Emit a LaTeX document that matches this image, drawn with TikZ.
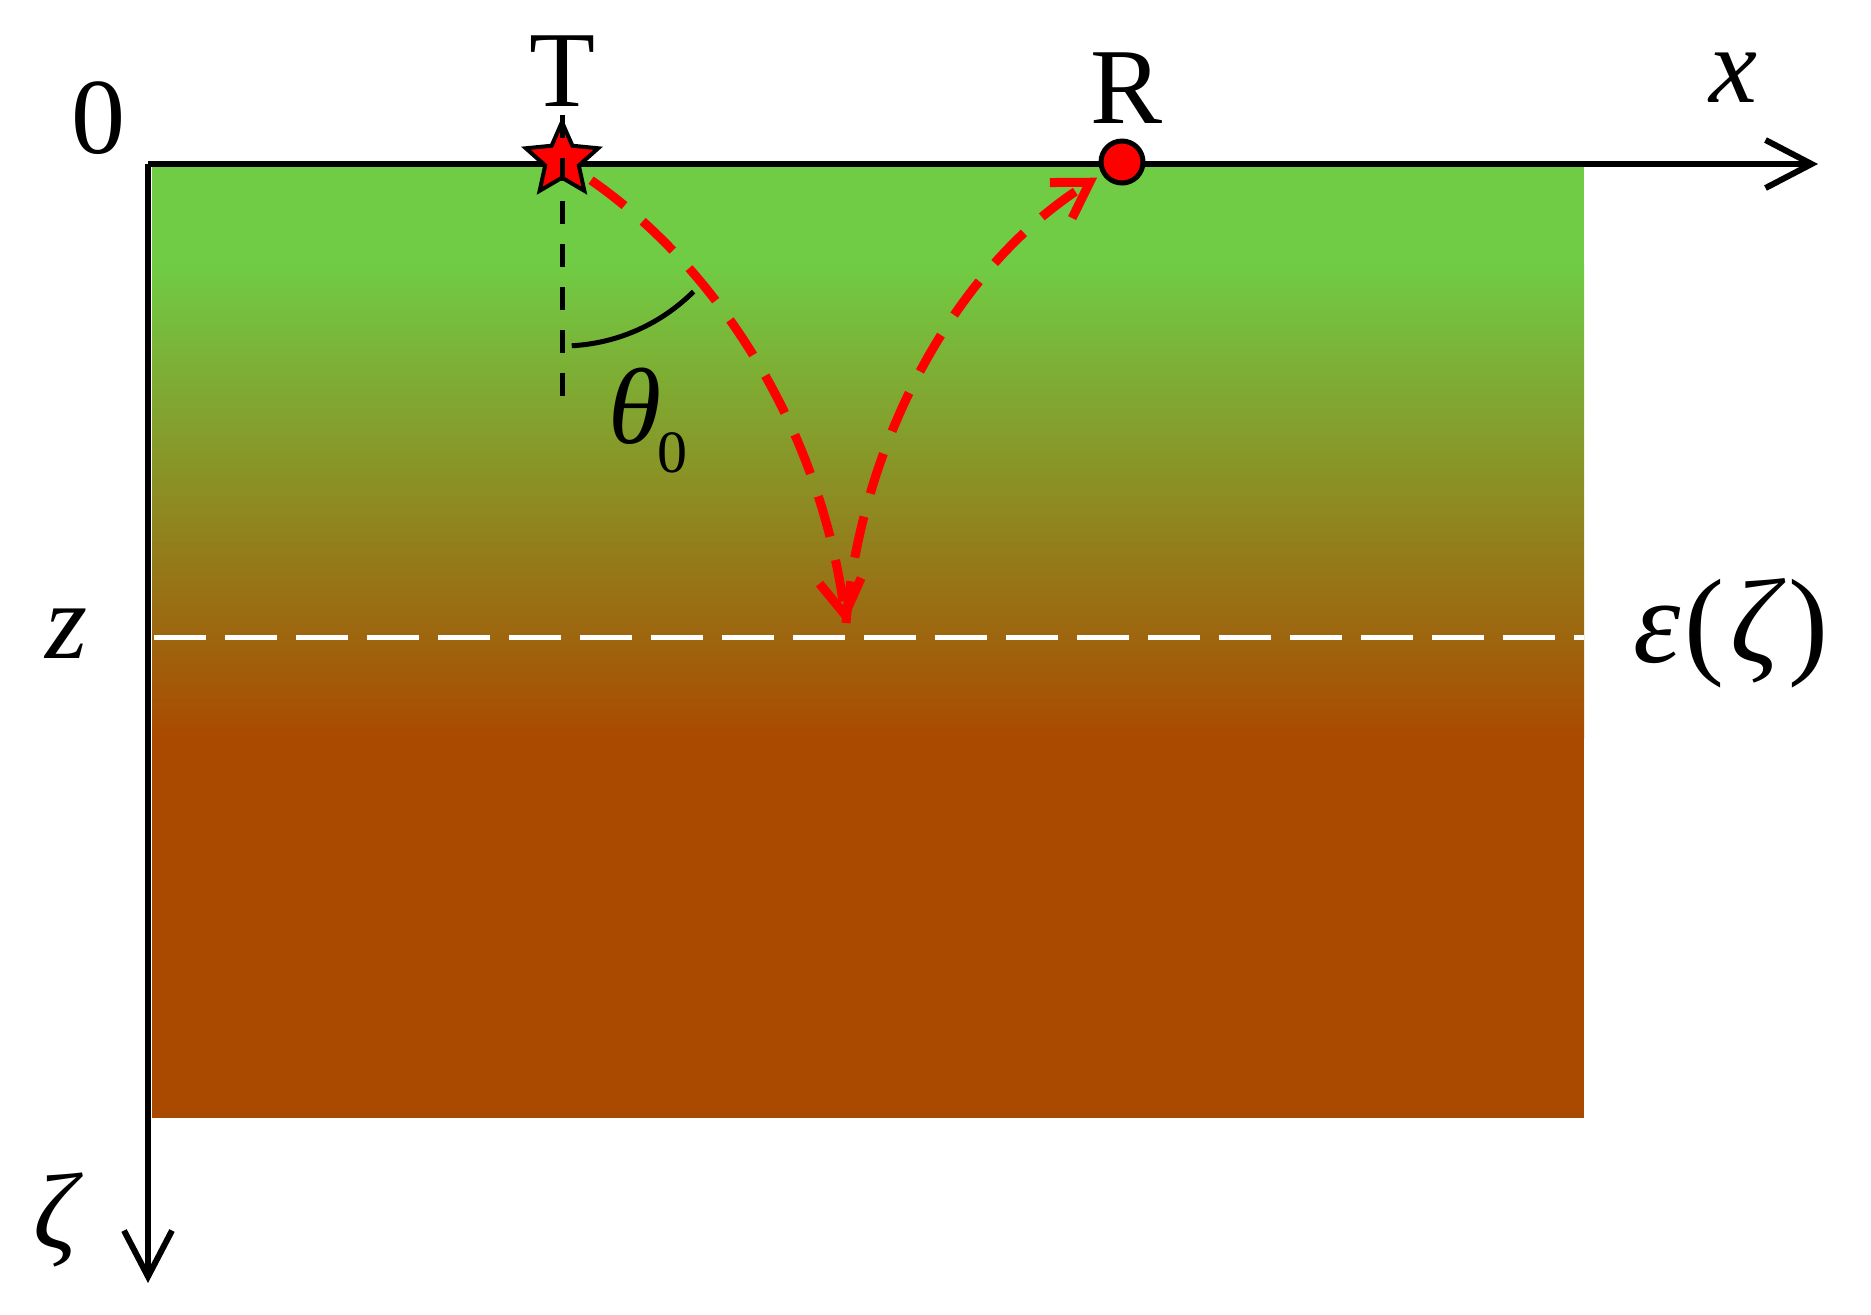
\documentclass[tikz,border=0pt]{standalone}
\usepackage{fontspec}
\setmainfont{Liberation Serif}[ItalicFont={Liberation Serif Italic}]
\usetikzlibrary{arrows.meta,shapes.geometric}
\definecolor{grn}{HTML}{70CC44}
\definecolor{brn}{HTML}{AA4A00}
\begin{document}
\begin{tikzpicture}[x=0.5pt,y=-0.5pt,
  lbl/.style={font=\fontsize{54}{60}\selectfont, inner sep=0pt},
  axisline/.style={line width=3pt, -{Straight Barb[length=23pt,width=24pt,line width=3pt]}},
  ray/.style={red, line width=4.5pt, dash pattern=on 21pt off 12pt, -{Straight Barb[length=17pt,width=21pt,line width=4.5pt]}},
  guide/.style={line width=2.5pt, dash pattern=on 11.5pt off 10pt}]
\useasboundingbox (0,0) rectangle (1871,1314);
% layered medium
\fill[grn] (152,164) rectangle (1584,266);
\shade[top color=grn, bottom color=brn] (152,264) rectangle (1584,738);
\fill[brn] (152,736) rectangle (1584,1118);
% interface
\coordinate (L) at (154,637);
\coordinate (Rr) at (1584,637);
\draw[white, line width=2.5pt, dash pattern=on 26pt off 9.5pt] (L) -- (Rr);
% axes
\coordinate (O) at (148,164);
\coordinate (X) at (1818,164);
\coordinate (Z) at (148,1283);
\draw[axisline] (O) -- (X);
\draw[axisline] (O) -- (Z);
% transmitter / receiver
\node[star, star points=5, star point ratio=2.15, minimum size=38pt, inner sep=0pt,
      fill=red, draw=black, line width=2pt] (T) at (562,160) {};
\node[circle, minimum size=21pt, inner sep=0pt, fill=red, draw=black, line width=2.5pt] (R) at (1122,162) {};
\coordinate (P) at (846,623);
\coordinate (V) at (562,402);
% normal and angle
\draw[guide] ([yshift=44]T.center) -- (V);
\draw[line width=2.5pt] ([shift={(87:186)}]T.center) arc[start angle=87, end angle=45, radius=186];
% rays
\draw[ray, shorten <=5pt] (T) .. controls (720,270) and (820,430) .. (P);
\draw[ray, shorten >=3pt] (P) .. controls (860,450) and (950,270) .. (R);
% labels
\node[lbl] (l0) at (98,118) {0};
\node[lbl] (lT) at (562,71) {T};
\node[lbl] (lR) at (1126,88) {R};
\node[lbl] (lx) at (1733,78) {\itshape x};
\node[lbl] (lz) at (67,634) {\itshape z};
\node[lbl, font=\fontsize{60}{66}\selectfont] (leps) at (1731,633) {\itshape ε\kern2pt\upshape(\kern3pt\itshape ζ\kern5pt\upshape)};
\node[lbl] (lzeta) at (55,1220) {\itshape ζ};
\node[lbl, anchor=base west] (lth) at (608,443) {\itshape θ\kern-2pt\raisebox{-14.5pt}{\upshape\fontsize{30}{30}\selectfont 0}};
\end{tikzpicture}
\end{document}
